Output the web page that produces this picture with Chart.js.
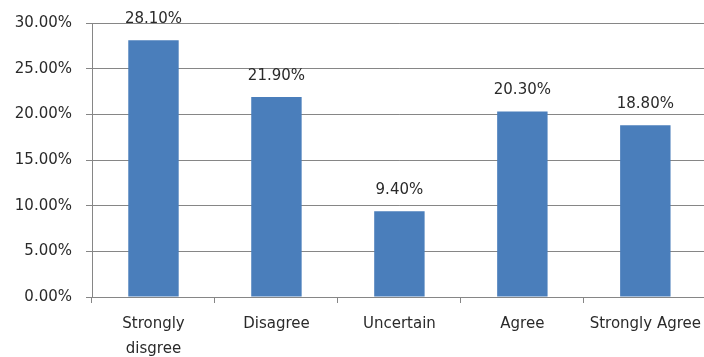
<!DOCTYPE html>
<html lang="en">
<head>
    <meta charset="utf-8" />
    <title>Survey responses</title>
    <script src="https://cdn.jsdelivr.net/npm/chart.js"></script>
    <style>
        html, body { margin: 0; padding: 0; background: #fff; overflow: hidden; }
        #Chart1 { display: block; }
    </style>
</head>
<body>
    <canvas id="Chart1" width="710" height="357"></canvas>

    <script>
        // answer categories and share of respondents (%)
        const categories = [['Strongly', 'disgree'], 'Disagree', 'Uncertain', 'Agree', 'Strongly Agree'];
        const shares = [28.1, 21.9, 9.4, 20.3, 18.8];
        const yTicks = [0, 5, 10, 15, 20, 25, 30];

        const textColor = '#2a2a2a';
        const lineColor = '#868686';
        const fontFace = "'DejaVu Sans', sans-serif";

        // percentage written above every bar
        const valueLabels = {
            id: 'valueLabels',
            afterDatasetsDraw(chart) {
                const ctx = chart.ctx;
                const meta = chart.getDatasetMeta(0);
                ctx.save();
                ctx.font = '15px ' + fontFace;
                ctx.fillStyle = textColor;
                ctx.textAlign = 'center';
                ctx.textBaseline = 'middle';
                meta.data.forEach(function (bar, i) {
                    ctx.fillText(shares[i].toFixed(2) + '%', bar.x, bar.y - 21);
                });
                ctx.restore();
            }
        };

        const ctx = document.getElementById('Chart1').getContext('2d');
        new Chart(ctx, {
            type: 'bar',
            data: {
                labels: categories,
                datasets: [{
                    data: shares,
                    backgroundColor: '#4a7ebb',
                    borderWidth: 0,
                    categoryPercentage: 1,
                    barPercentage: 0.41
                }]
            },
            options: {
                responsive: false,
                animation: false,
                layout: { padding: { top: 19, left: 0, right: 0, bottom: 0 } },
                plugins: {
                    legend: { display: false },
                    tooltip: { enabled: false },
                    title: { display: false }
                },
                scales: {
                    x: {
                        grid: {
                            drawOnChartArea: false,
                            drawTicks: true,
                            tickLength: 6,
                            color: lineColor
                        },
                        border: { color: lineColor, width: 1 },
                        ticks: {
                            color: textColor,
                            font: { family: fontFace, size: 15, lineHeight: 1.65 },
                            padding: 9,
                            maxRotation: 0,
                            autoSkip: false
                        },
                        afterFit(scale) { scale.height = 60; }
                    },
                    y: {
                        min: 0,
                        max: 30,
                        afterBuildTicks(scale) {
                            scale.ticks = yTicks.map(v => ({ value: v }));
                        },
                        grid: {
                            color: lineColor,
                            tickLength: 6
                        },
                        border: { color: lineColor, width: 1 },
                        ticks: {
                            color: textColor,
                            font: { family: fontFace, size: 15 },
                            padding: 14,
                            callback: v => v.toFixed(2) + '%'
                        },
                        afterFit(scale) { scale.width = 92; }
                    }
                }
            },
            plugins: [valueLabels]
        });
    </script>
</body>
</html>
